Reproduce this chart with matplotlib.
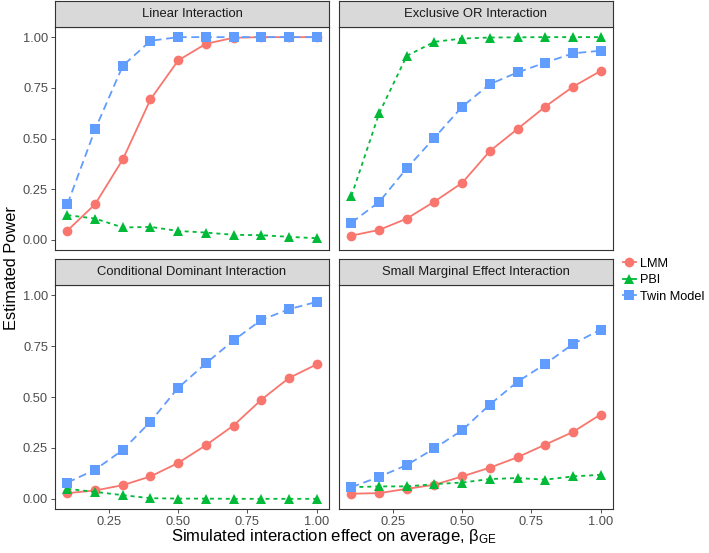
import matplotlib
matplotlib.use("Agg")
import matplotlib.pyplot as plt
from matplotlib.lines import Line2D

plt.rcParams["font.family"] = ["Liberation Sans", "DejaVu Sans"]
plt.rcParams["mathtext.fontset"] = "custom"
plt.rcParams["mathtext.rm"] = "Liberation Sans"
plt.rcParams["mathtext.it"] = "Liberation Sans:italic"

# ----------------------------------------------------------
# DATA
# ----------------------------------------------------------
beta = [0.1, 0.2, 0.3, 0.4, 0.5, 0.6, 0.7, 0.8, 0.9, 1.0]

paneles = ["Linear Interaction", "Exclusive OR Interaction",
           "Conditional Dominant Interaction", "Small Marginal Effect Interaction"]

lmm_linear = [0.046, 0.176, 0.397, 0.693, 0.885, 0.967, 0.997, 1.0, 1.0, 1.0]
pbi_linear = [0.122, 0.105, 0.061, 0.064, 0.044, 0.036, 0.025, 0.023, 0.015, 0.008]
twin_linear = [0.176, 0.545, 0.859, 0.982, 1.0, 1.0, 1.0, 1.0, 1.0, 1.0]

lmm_xor = [0.021, 0.049, 0.105, 0.189, 0.281, 0.438, 0.547, 0.657, 0.755, 0.833]
pbi_xor = [0.217, 0.624, 0.908, 0.977, 0.993, 0.998, 0.999, 1.0, 1.0, 1.0]
twin_xor = [0.085, 0.187, 0.353, 0.504, 0.657, 0.768, 0.826, 0.874, 0.920, 0.933]

lmm_cond = [0.028, 0.041, 0.067, 0.110, 0.176, 0.263, 0.360, 0.486, 0.593, 0.660]
pbi_cond = [0.049, 0.034, 0.018, 0.003, 0.001, 0.001, 0.0, 0.0, 0.0, 0.0]
twin_cond = [0.080, 0.143, 0.240, 0.379, 0.545, 0.665, 0.778, 0.878, 0.931, 0.967]

lmm_small = [0.025, 0.028, 0.049, 0.069, 0.110, 0.153, 0.204, 0.266, 0.328, 0.414]
pbi_small = [0.057, 0.061, 0.061, 0.072, 0.080, 0.097, 0.102, 0.094, 0.110, 0.118]
twin_small = [0.057, 0.108, 0.166, 0.248, 0.337, 0.463, 0.575, 0.662, 0.760, 0.831]

datos = [
    (lmm_linear, pbi_linear, twin_linear),
    (lmm_xor, pbi_xor, twin_xor),
    (lmm_cond, pbi_cond, twin_cond),
    (lmm_small, pbi_small, twin_small),
]

modelos = ["LMM", "PBI", "Twin Model"]
colores = ["#F8766D", "#00BA38", "#619CFF"]
marcadores = ["o", "^", "s"]
lineas = ["-", (0, (2.2, 2.2)), (0, (4.4, 2.6))]
tam_marc = [7, 7.5, 6.5]

# ----------------------------------------------------------
# LAYOUT (pixel-based)
# ----------------------------------------------------------
W, H = 709, 553
fig = plt.figure(figsize=(W / 100, H / 100), dpi=100)


def caja(x0, y0, x1, y1):
    return [x0 / W, 1 - y1 / H, (x1 - x0) / W, (y1 - y0) / H]


cols = [(55, 329), (339, 613)]
filas = [((1, 27), (27, 250)), ((259, 285), (285, 509))]
borde = "#333333"
gris_txt = "#4D4D4D"

for i, titulo in enumerate(paneles):
    r, c = divmod(i, 2)
    (sy0, sy1), (py0, py1) = filas[r]
    x0, x1 = cols[c]

    ax = fig.add_axes(caja(x0, py0, x1, py1))
    for k in range(3):
        ax.plot(beta, datos[i][k], color=colores[k], linestyle=lineas[k],
                linewidth=1.3, marker=marcadores[k], markersize=tam_marc[k],
                markeredgewidth=0)
    ax.set_xlim(0.055, 1.045)
    ax.set_ylim(-0.05, 1.05)
    ax.set_xticks([0.25, 0.50, 0.75, 1.00])
    ax.set_yticks([0.0, 0.25, 0.5, 0.75, 1.0])
    ax.set_xticklabels(["0.25", "0.50", "0.75", "1.00"])
    ax.set_yticklabels(["0.00", "0.25", "0.50", "0.75", "1.00"])
    ax.tick_params(colors=borde, labelcolor=gris_txt, labelsize=9.3,
                   length=3, width=0.6, pad=2)
    if r == 0:
        ax.tick_params(axis="x", labelbottom=False, length=0)
    if c == 1:
        ax.tick_params(axis="y", labelleft=False, length=0)
    for s in ax.spines.values():
        s.set_color(borde)
        s.set_linewidth(0.8)

    tira = fig.add_axes(caja(x0, sy0, x1, sy1))
    tira.set_facecolor("#D9D9D9")
    tira.set_xticks([])
    tira.set_yticks([])
    for s in tira.spines.values():
        s.set_color(borde)
        s.set_linewidth(0.8)
    tira.text(0.5, 0.5, titulo, ha="center", va="center", fontsize=9.4,
              color="#1A1A1A", transform=tira.transAxes)

fig.text(12 / W, 1 - 268 / H, "Estimated Power", rotation=90,
         ha="center", va="center", fontsize=11.8, color="black")
fig.text(334 / W, 1 - 536 / H,
         r"Simulated interaction effect on average, $\mathrm{\beta}_{\mathrm{GE}}$",
         ha="center", va="center", fontsize=12, color="black")

# Legend
handles = [Line2D([0], [0], color=colores[k], linestyle="-", linewidth=1.3,
                  marker=marcadores[k], markersize=tam_marc[k],
                  markeredgewidth=0) for k in range(3)]
fig.legend(handles, modelos, loc="upper left",
           bbox_to_anchor=(614 / W, 1 - 249 / H), frameon=False,
           fontsize=9.2, handlelength=1.0, handletextpad=0.35,
           labelspacing=0.35, borderpad=0.2)

plt.savefig("out.png", dpi=100)
